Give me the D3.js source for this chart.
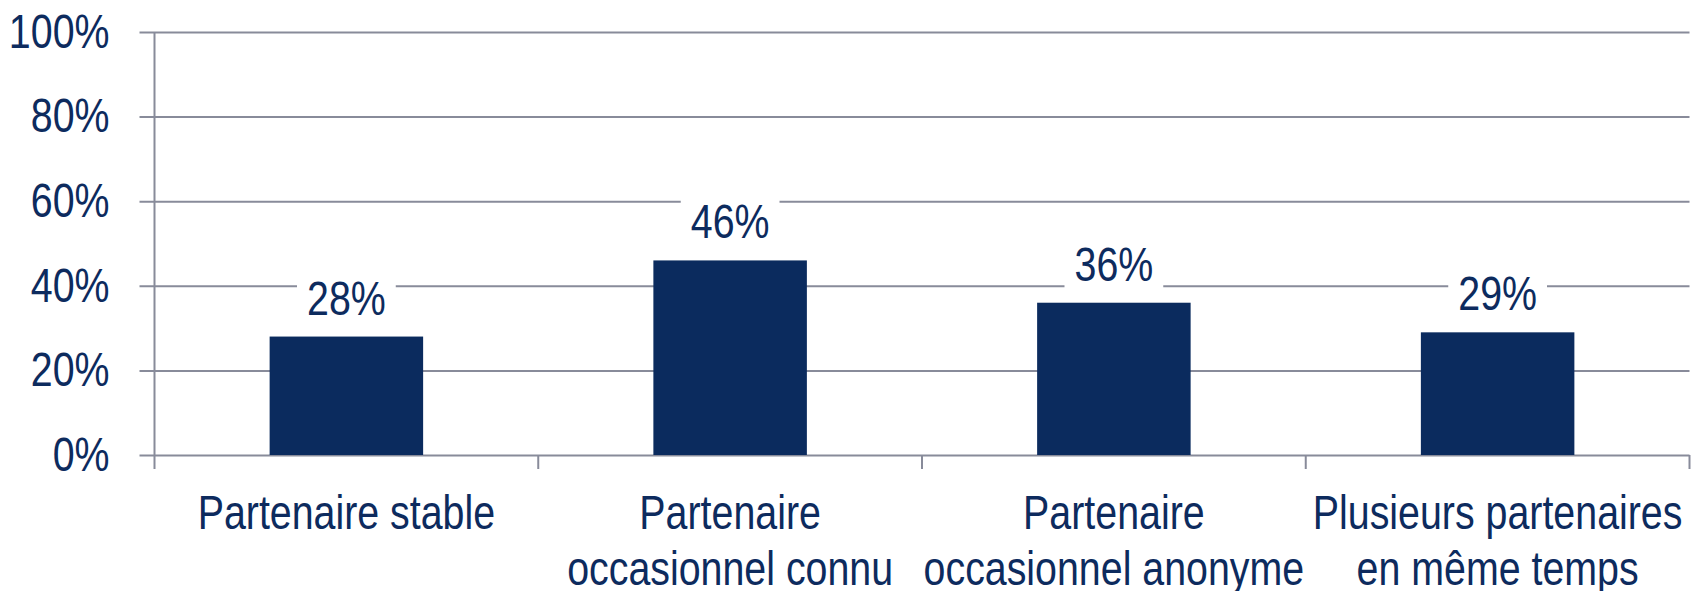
<!DOCTYPE html>
<html>
<head>
<meta charset="utf-8">
<script src="https://cdn.jsdelivr.net/npm/d3@7"></script>
<style>
  html, body { margin: 0; padding: 0; background: #fff; }
  svg text { font-family: "Liberation Sans Narrow", "Arial Narrow", "Liberation Sans", Arial, sans-serif; fill: #0d2b5e; }
</style>
</head>
<body>
<div id="chart"></div>
<script>
// chart values
var categories = ["Partenaire stable", "Partenaire occasionnel connu", "Partenaire occasionnel anonyme", "Plusieurs partenaires en même temps"];
var categoryLines = [["Partenaire stable"], ["Partenaire", "occasionnel connu"], ["Partenaire", "occasionnel anonyme"], ["Plusieurs partenaires", "en même temps"]];
var values = [0.28, 0.46, 0.36, 0.29];
var valueLabels = ["28%", "46%", "36%", "29%"];
var yTicks = [0, 0.2, 0.4, 0.6, 0.8, 1];
var yTickLabels = ["0%", "20%", "40%", "60%", "80%", "100%"];

var width = 1695, height = 591;
var margin = { top: 32, right: 5.5, bottom: 136, left: 154.5 };
var plotW = width - margin.left - margin.right;
var plotH = height - margin.top - margin.bottom;
var navy = "#0b2b5e", gridColor = "#888b9a";
var fontSize = 48;
// no narrow font installed, so squeeze the regular sans horizontally
var squeeze = 0.82;

var svg = d3.select("#chart").append("svg")
  .attr("width", width)
  .attr("height", height);

var g = svg.append("g")
  .attr("transform", "translate(" + margin.left + "," + margin.top + ")");

var x = d3.scaleBand().domain(categories).range([0, plotW]).padding(0);
var y = d3.scaleLinear().domain([0, 1]).range([plotH, 0]);

// y gridlines + tick labels (gridlines stick out 15px left of the axis)
var yAxis = g.append("g")
  .attr("transform", "translate(-15,0)")
  .call(d3.axisLeft(y)
    .tickValues(yTicks)
    .tickSize(-(plotW + 15))
    .tickPadding(30)
    .tickFormat(function (d, i) { return yTickLabels[i]; }));
yAxis.select(".domain").remove();
yAxis.selectAll(".tick line").attr("stroke", gridColor).attr("stroke-width", 2);
yAxis.selectAll(".tick text")
  .attr("fill", navy)
  .style("font-size", fontSize + "px")
  .attr("x", -30 / squeeze)
  .attr("transform", "scale(" + squeeze + ",1)")
  .attr("dy", "0.32em");
yAxis.attr("font-family", null).attr("font-size", null);

// vertical axis line
g.append("line")
  .attr("x1", 0).attr("x2", 0)
  .attr("y1", 0).attr("y2", plotH + 14)
  .attr("stroke", gridColor).attr("stroke-width", 2);

// category boundary ticks
var bounds = categories.map(function (c) { return x(c); }).concat([x.range()[1]]);
g.selectAll(".xtick").data(bounds.slice(1)).enter().append("line")
  .attr("class", "xtick")
  .attr("x1", function (d) { return d; }).attr("x2", function (d) { return d; })
  .attr("y1", plotH).attr("y2", plotH + 14)
  .attr("stroke", gridColor).attr("stroke-width", 2);

// bars
var barW = x.bandwidth() * 0.4;
g.selectAll(".bar").data(values).enter().append("rect")
  .attr("class", "bar")
  .attr("x", function (d, i) { return x(categories[i]) + (x.bandwidth() - barW) / 2; })
  .attr("y", function (d) { return y(d); })
  .attr("width", barW)
  .attr("height", function (d) { return plotH - y(d); })
  .attr("fill", navy);

// value labels with white backing (they cut the gridlines)
var lab = g.selectAll(".vlab").data(values).enter().append("g")
  .attr("class", "vlab")
  .attr("transform", function (d, i) {
    return "translate(" + (x(categories[i]) + x.bandwidth() / 2) + "," + (y(d) - 22) + ") scale(" + squeeze + ",1)";
  });
var labText = lab.append("text")
  .attr("text-anchor", "middle")
  .style("font-size", fontSize + "px")
  .text(function (d, i) { return valueLabels[i]; });
labText.each(function () {
  var b = this.getBBox();
  d3.select(this.parentNode).insert("rect", "text")
    .attr("x", b.x - 10 / squeeze).attr("y", b.y - 2)
    .attr("width", b.width + 20 / squeeze).attr("height", b.height + 4)
    .attr("fill", "#fff");
});

// category labels
var cat = g.selectAll(".clab").data(categoryLines).enter().append("text")
  .attr("class", "clab")
  .attr("text-anchor", "middle")
  .style("font-size", fontSize + "px")
  .attr("transform", function (d, i) {
    return "translate(" + (x(categories[i]) + x.bandwidth() / 2) + "," + (plotH + 74) + ") scale(" + squeeze + ",1)";
  });
cat.selectAll("tspan").data(function (d) { return d; }).enter().append("tspan")
  .attr("x", 0)
  .attr("y", function (d, i) { return i * 56; })
  .text(function (d) { return d; });
</script>
</body>
</html>
